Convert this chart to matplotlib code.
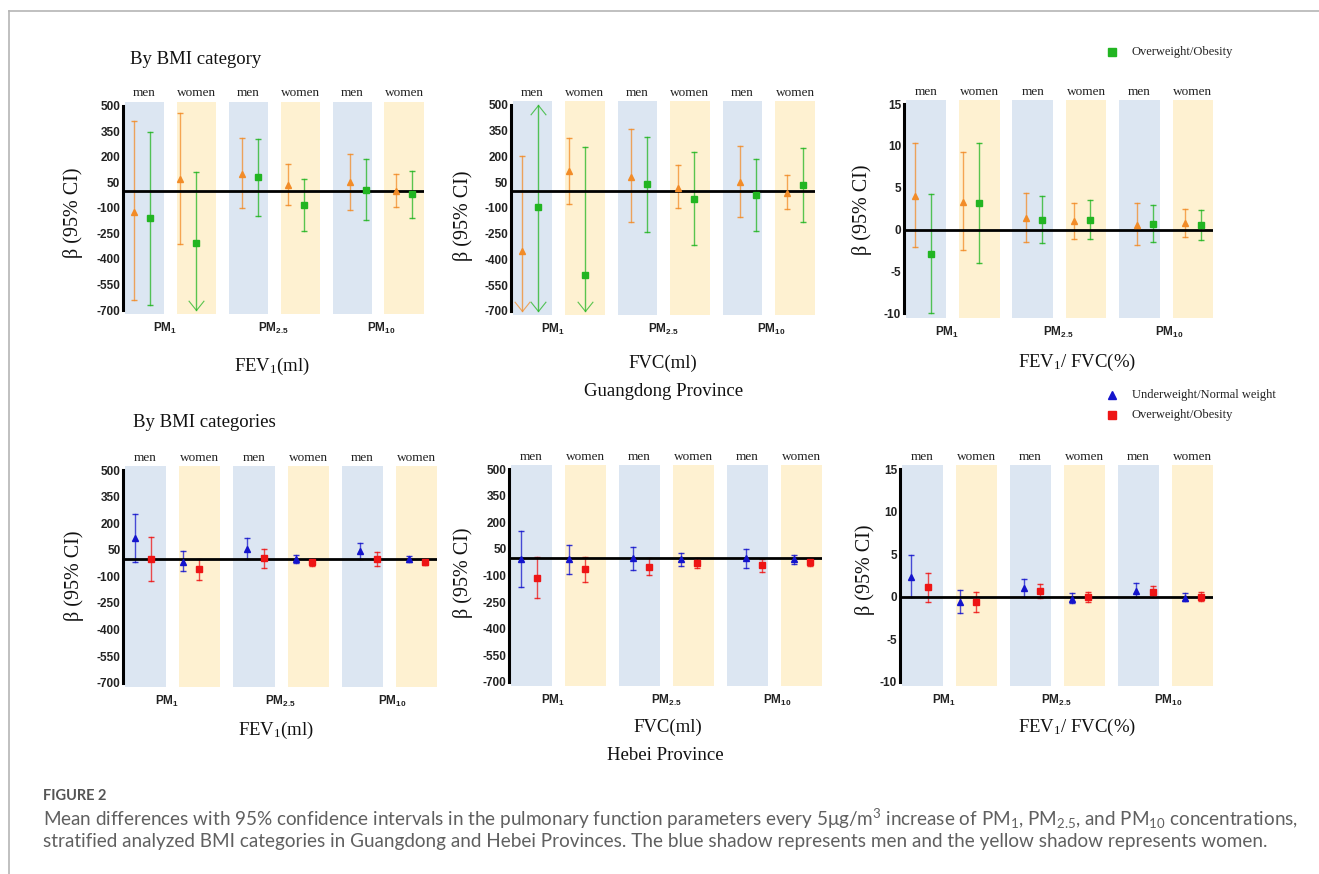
import numpy as np
import matplotlib
matplotlib.use("Agg")
import matplotlib.pyplot as plt
from matplotlib.lines import Line2D
from matplotlib.path import Path

W, H = 1319, 874
SERIF = "Liberation Serif"
SANS = "Liberation Sans"

GROUPS = ["men", "women", "men", "women", "men", "women"]
POLLUTANTS = [r"PM$\mathregular{_1}$", r"PM$\mathregular{_{2.5}}$", r"PM$\mathregular{_{10}}$"]
ML_TICKS = [-700, -550, -400, -250, -100, 50, 200, 350, 500]
PCT_TICKS = [-10, -5, 0, 5, 10, 15]

nan = np.nan  # CI end beyond the axis range (drawn as an open arrow)

# Guangdong: a = underweight/normal weight (orange), b = overweight/obesity (green)
gd_fev1_a = [-123, 67, 99, 34, 50, -1]
gd_fev1_a_lo = [-641, -314, -103, -81, -111, -93]
gd_fev1_a_hi = [410, 459, 308, 159, 218, 99]
gd_fev1_b = [-162, -307, 79, -84, 7, -21]
gd_fev1_b_lo = [-671, nan, -146, -238, -172, -158]
gd_fev1_b_hi = [347, 112, 304, 71, 185, 118]

gd_fvc_a = [-350, 113, 82, 18, 51, -12]
gd_fvc_a_lo = [nan, -78, -183, -103, -154, -109]
gd_fvc_a_hi = [204, 307, 358, 152, 261, 92]
gd_fvc_b = [-95, -492, 41, -47, -25, 33]
gd_fvc_b_lo = [nan, nan, -239, -319, -233, -183]
gd_fvc_b_hi = [nan, 257, 315, 226, 183, 249]

gd_ratio_a = [4.0, 3.3, 1.39, 0.99, 0.59, 0.75]
gd_ratio_a_lo = [-2.1, -2.5, -1.48, -1.16, -1.84, -0.84]
gd_ratio_a_hi = [10.3, 9.3, 4.41, 3.22, 3.14, 2.5]
gd_ratio_b = [-2.87, 3.14, 1.19, 1.15, 0.71, 0.55]
gd_ratio_b_lo = [-10.0, -3.95, -1.64, -1.16, -1.52, -1.28]
gd_ratio_b_hi = [4.25, 10.3, 4.0, 3.5, 2.94, 2.34]

# Hebei: a = underweight/normal weight (blue), b = overweight/obesity (red)
hb_fev1_a = [114, -17, 52, -4, 41, -4]
hb_fev1_a_lo = [-19, -72, 0, -27, 0, -19]
hb_fev1_a_hi = [254, 45, 114, 20, 90, 15]
hb_fev1_b = [-4, -61, 3, -21, 0, -17]
hb_fev1_b_lo = [-128, -123, -53, -44, -42, -34]
hb_fev1_b_hi = [120, 0, 52, 0, 39, 0]

hb_fvc_a = [-9, -9, -3, -9, -3, -9]
hb_fvc_a_lo = [-165, -94, -71, -48, -56, -35]
hb_fvc_a_hi = [150, 74, 63, 27, 50, 18]
hb_fvc_b = [-112, -63, -52, -29, -43, -26]
hb_fvc_b_lo = [-225, -135, -99, -58, -80, -44]
hb_fvc_b_hi = [3, 7, -3, 1, -5, -3]

hb_ratio_a = [2.36, -0.58, 0.99, -0.23, 0.71, -0.16]
hb_ratio_a_lo = [0.0, -1.88, 0.0, -0.74, 0.0, -0.51]
hb_ratio_a_hi = [4.87, 0.83, 2.09, 0.48, 1.65, 0.40]
hb_ratio_b = [1.1, -0.58, 0.71, -0.04, 0.6, 0.0]
hb_ratio_b_lo = [-0.66, -1.76, -0.12, -0.66, 0.0, -0.51]
hb_ratio_b_hi = [2.83, 0.56, 1.54, 0.6, 1.22, 0.52]

# layout (x in band units: band i spans [i, i + BAND_W])
BAND_W = 0.76
BAND_COLORS = {"men": "#DCE6F2", "women": "#FEF1D1"}
X_A = [0.18, 1.07, 2.26, 3.15, 4.34, 5.23]
X_SHIFT = 0.3
PM_X = [0.78, 2.87, 4.93]

ARROW_DOWN = Path([(-0.8, 1), (0, 0), (0.8, 1)], [Path.MOVETO, Path.LINETO, Path.LINETO])
ARROW_UP = Path([(-0.8, -1), (0, 0), (0.8, -1)], [Path.MOVETO, Path.LINETO, Path.LINETO])

fig = plt.figure(figsize=(W / 100, H / 100), dpi=100)


def px(x, y):
    return x / W, 1 - y / H


def rect(left, top, right, bottom):
    return [left / W, 1 - bottom / H, (right - left) / W, (bottom - top) / H]


def draw_series(ax, xs, est, lo, hi, color, marker, ms, bottom, top):
    for x, e, l, h in zip(xs, est, lo, hi):
        l_end = bottom if np.isnan(l) else l
        h_end = top if np.isnan(h) else h
        ax.plot([x, x], [l_end, h_end], color=color, lw=1.0, alpha=0.75, zorder=2)
        for v, end, arrow in ((l, l_end, ARROW_DOWN), (h, h_end, ARROW_UP)):
            if np.isnan(v):
                ax.plot(x, end, marker=arrow, ms=14, mfc="none", mec=color,
                        mew=0.8, alpha=0.75, zorder=2, clip_on=False)
            else:
                ax.plot(x, end, marker="_", ms=5, mew=1.0, color=color,
                        alpha=0.85, zorder=2)
    ax.plot(xs, est, ls="none", marker=marker, ms=ms, color=color, zorder=4)


def draw_panel(box, ticks, series, colors):
    bottom, top = ticks[0], ticks[-1]
    margin = (top - bottom) * 0.0208
    ax = fig.add_axes(rect(*box))
    ax.set_xlim(-0.03, 5.76)
    ax.set_ylim(bottom - margin, top + margin)
    for i, g in enumerate(GROUPS):
        ax.axvspan(i, i + BAND_W, color=BAND_COLORS[g], lw=0, zorder=0)
        ax.annotate(g, (i + BAND_W / 2, 1), xycoords=("data", "axes fraction"),
                    xytext=(0, 1.5), textcoords="offset points", ha="center",
                    va="bottom", family=SERIF, fontsize=9.5, color="#222222")
    for k, p in enumerate(POLLUTANTS):
        ax.annotate(p, (PM_X[k], 0), xycoords=("data", "axes fraction"),
                    xytext=(0, -5), textcoords="offset points", ha="center",
                    va="top", family=SANS, fontweight="bold", fontsize=8.5,
                    color="#222222")
    ax.axhline(0, color="black", lw=2, zorder=3)
    xs_b = [x + X_SHIFT for x in X_A]
    (ea, la, ha), (eb, lb, hb) = series
    draw_series(ax, X_A, ea, la, ha, colors[0], "^", 4.5, bottom, top)
    draw_series(ax, xs_b, eb, lb, hb, colors[1], "s", 5, bottom, top)
    for s in ("top", "right", "bottom"):
        ax.spines[s].set_visible(False)
    ax.spines["left"].set_bounds(bottom, top)
    ax.spines["left"].set_linewidth(2.2)
    ax.spines["left"].set_position(("data", -0.03))
    ax.set_yticks(ticks)
    ax.set_yticklabels([str(t) for t in ticks], fontweight="bold", family=SANS,
                       fontsize=8.5, color="#222222")
    ax.tick_params(axis="y", length=0, pad=2)
    ax.set_xticks([])
    ax.patch.set_alpha(0)
    return ax


GD = ("#F28C28", "#22B522")
HB = ("#1414CC", "#EE1515")

draw_panel((123, 101.5, 424, 314.3), ML_TICKS,
           [(gd_fev1_a, gd_fev1_a_lo, gd_fev1_a_hi), (gd_fev1_b, gd_fev1_b_lo, gd_fev1_b_hi)], GD)
draw_panel((511, 100.7, 815, 315), ML_TICKS,
           [(gd_fvc_a, gd_fvc_a_lo, gd_fvc_a_hi), (gd_fvc_b, gd_fvc_b_lo, gd_fvc_b_hi)], GD)
draw_panel((904, 99.8, 1213.3, 317.5), PCT_TICKS,
           [(gd_ratio_a, gd_ratio_a_lo, gd_ratio_a_hi), (gd_ratio_b, gd_ratio_b_lo, gd_ratio_b_hi)], GD)
draw_panel((123.3, 465.6, 437.3, 687.1), ML_TICKS,
           [(hb_fev1_a, hb_fev1_a_lo, hb_fev1_a_hi), (hb_fev1_b, hb_fev1_b_lo, hb_fev1_b_hi)], HB)
draw_panel((509.3, 464.9, 822.3, 686.1), ML_TICKS,
           [(hb_fvc_a, hb_fvc_a_lo, hb_fvc_a_hi), (hb_fvc_b, hb_fvc_b_lo, hb_fvc_b_hi)], HB)
draw_panel((900, 465, 1213.3, 686), PCT_TICKS,
           [(hb_ratio_a, hb_ratio_a_lo, hb_ratio_a_hi), (hb_ratio_b, hb_ratio_b_lo, hb_ratio_b_hi)], HB)

# axis titles
ylab = r"β (95% CI)"
for x, y in [(73, 213), (463, 216), (862, 210), (74, 576), (463, 573), (865, 570)]:
    fig.text(*px(x, y), ylab, rotation=90, ha="center", va="center",
             family=SERIF, fontsize=14.5, color="#111111")
xlabs = [r"FEV$\mathregular{_1}$(ml)", "FVC(ml)", r"FEV$\mathregular{_1}$/ FVC(%)"]
for lab, (x, y) in zip(xlabs * 2, [(272, 366), (663, 363), (1077, 362),
                                   (276, 730), (668, 727), (1077, 727)]):
    fig.text(*px(x, y), lab, ha="center", va="center", family=SERIF,
             fontsize=13.5, color="#111111")

fig.text(*px(130, 59), "By BMI category", ha="left", va="center", family=SERIF,
         fontsize=13.5, color="#111111")
fig.text(*px(133, 423), "By BMI categories", ha="left", va="center", family=SERIF,
         fontsize=13.5, color="#111111")
fig.text(*px(664, 391), "Guangdong Province", ha="center", va="center",
         family=SERIF, fontsize=13.5, color="#111111")
fig.text(*px(665, 756), "Hebei Province", ha="center", va="center",
         family=SERIF, fontsize=13.5, color="#111111")

# legends
legend_items = [
    ((1112, 52), "s", GD[1], "Overweight/Obesity"),
    ((1112, 395), "^", HB[0], "Underweight/Normal weight"),
    ((1112, 415), "s", HB[1], "Overweight/Obesity"),
]
for (x, y), m, c, lab in legend_items:
    fig.add_artist(Line2D([x / W], [1 - y / H], marker=m, ms=5.5, color=c,
                          ls="none", transform=fig.transFigure))
    fig.text(*px(x + 20, y), lab, ha="left", va="center", family=SERIF,
             fontsize=9, color="#222222")

# frame lines
fig.add_artist(Line2D([9 / W, 1], [1 - 11 / H] * 2, color="#b5b5b5", lw=1.2,
                      transform=fig.transFigure))
fig.add_artist(Line2D([9 / W] * 2, [0, 1 - 11 / H], color="#b5b5b5", lw=1.2,
                      transform=fig.transFigure))

# caption
CAP_FONT = "Lato"
fig.text(*px(43, 796), "FIGURE 2", ha="left", va="center", family=CAP_FONT,
         fontweight="bold", fontsize=10.5, color="#555555")
line1 = (r"Mean differences with 95% confidence intervals in the pulmonary function "
         r"parameters every 5μg/m$\mathregular{^3}$ increase of PM$\mathregular{_1}$, "
         r"PM$\mathregular{_{2.5}}$, and PM$\mathregular{_{10}}$ concentrations,")
line2 = ("stratified analyzed BMI categories in Guangdong and Hebei Provinces. "
         "The blue shadow represents men and the yellow shadow represents women.")
t1 = fig.text(*px(43, 819), line1, ha="left", va="center", family=CAP_FONT,
              fontsize=12, color="#606060")
t2 = fig.text(*px(43, 842), line2, ha="left", va="center", family=CAP_FONT,
              fontsize=12, color="#606060")
renderer = fig.canvas.get_renderer()
w1 = t1.get_window_extent(renderer).width
size = 12 * (1295 - 43) / w1
t1.set_fontsize(size)
t2.set_fontsize(size)

fig.savefig("out.png", dpi=100)
